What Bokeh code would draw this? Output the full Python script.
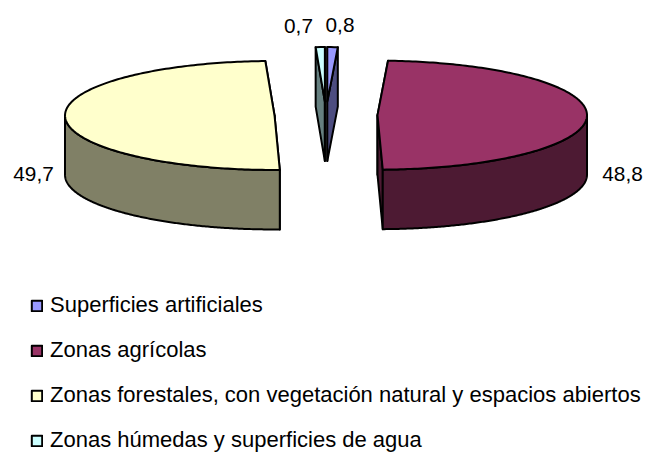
import math
from bokeh.plotting import figure
from bokeh.models import Range1d, Legend, LegendItem
from bokeh.core.properties import value
from bokeh.embed import file_html
from bokeh.resources import INLINE

categories = ["Superficies artificiales", "Zonas agrícolas",
              "Zonas forestales, con vegetación natural y espacios abiertos",
              "Zonas húmedas y superficies de agua"]
values = [0.8, 48.8, 49.7, 0.7]
value_labels = ["0,8", "48,8", "49,7", "0,7"]
top_colors = ["#9999FF", "#993366", "#FFFFCC", "#CCFFFF"]
side_colors = ["#4D4D80", "#4D1A33", "#808066", "#668080"]

# layout (in picture pixels)
W, H = 645, 453
CX, CY, RX, RY, DEPTH, EXPLODE = 325.5, 114.5, 209.5, 54.5, 59.5, 51.5
FONT = "Liberation Sans"
LABEL_POS = [(339.5, 24.5), (622, 173), (33, 173), (298, 25)]

p = figure(width=W, height=H, output_backend="svg", toolbar_location=None,
           x_range=Range1d(0, W), y_range=Range1d(H, 0),
           x_axis_type=None, y_axis_type=None, min_border=0,
           outline_line_color=None, background_fill_color="white")
p.grid.visible = False

total = sum(values)
items = []
start = 0.0
for cat, v, lab, top, side, pos in zip(categories, values, value_labels, top_colors, side_colors, LABEL_POS):
    a0 = start / total * 2 * math.pi
    start += v
    a1 = start / total * 2 * math.pi
    mid = (a0 + a1) / 2
    cx = CX + EXPLODE * math.sin(mid)
    cy = CY - EXPLODE * RY / RX * math.cos(mid)
    pt = lambda t, d=0.0: (cx + RX * math.sin(t), cy - RY * math.cos(t) + d)
    n = max(2, int(abs(a1 - a0) * 60))
    arc = [a0 + (a1 - a0) * i / n for i in range(n + 1)]
    polys_side = []
    # radial walls
    for a in (a0, a1):
        e = pt(a)
        polys_side.append(([cx, e[0], e[0], cx], [cy, e[1], e[1] + DEPTH, cy + DEPTH]))
    # outer rim: only the part facing the viewer
    lo, hi = max(a0, math.pi / 2), min(a1, 3 * math.pi / 2)
    if hi > lo:
        rim = [lo + (hi - lo) * i / n for i in range(n + 1)]
        up = [pt(t) for t in rim]
        dn = [pt(t, DEPTH) for t in reversed(rim)]
        polys_side.append(([q[0] for q in up + dn], [q[1] for q in up + dn]))
    p.patches([q[0] for q in polys_side], [q[1] for q in polys_side],
              fill_color=side, line_color="black", line_width=2, line_join="round")
    face = [(cx, cy)] + [pt(t) for t in arc]
    r = p.patch([q[0] for q in face], [q[1] for q in face],
                fill_color=top, line_color="black", line_width=2, line_join="round")
    items.append(LegendItem(label=cat, renderers=[r]))
    p.text([pos[0]], [pos[1]], text=[lab], text_font=value(FONT), text_font_size="20.8px",
           text_color="black", text_align="center", text_baseline="middle")

legend = Legend(items=items, location=(30, 0), orientation="vertical",
                background_fill_alpha=0, border_line_color=None,
                glyph_width=13, glyph_height=13, label_standoff=7, spacing=19,
                padding=0, margin=0, label_text_font=FONT, label_text_font_size="22px",
                label_text_color="black", label_height=24)
p.add_layout(legend, "center")

open("out.html", "w").write(file_html(p, INLINE))
